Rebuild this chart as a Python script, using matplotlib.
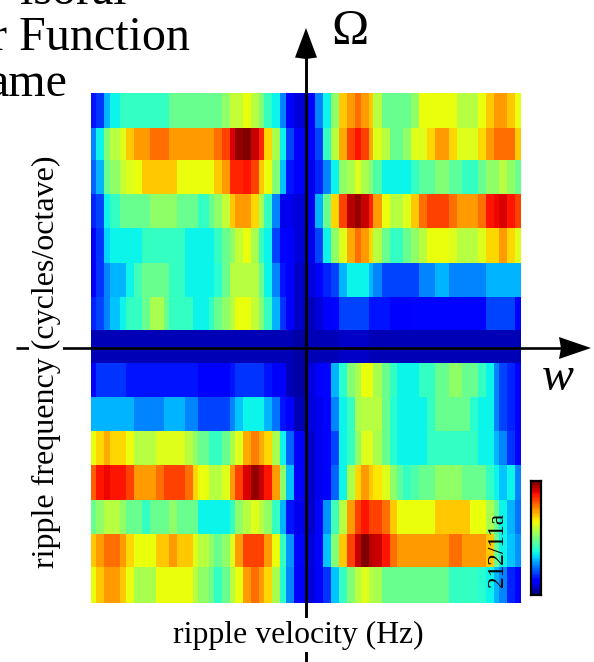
import numpy as np
import matplotlib
matplotlib.use("Agg")
import matplotlib.pyplot as plt
from matplotlib.patches import Polygon

plt.rcParams['font.family'] = ['Liberation Serif', 'DejaVu Serif']

W, H = 594, 662

# column edges of each half of the map, in the map's own velocity units
left_edges = [18,34,58,74,90,106,122,146,172,196,212,236,252,276,300,324,340,372,388,410,
              434,450,474,498,522,538,562,586,602,626,660]
right_edges = [15,22,46,70,94,118,140,164,182,206,220,246,270,292,310,334,358,382,406,446,
               470,486,510,534,558,582,598,622,646,662]
row_edges = [93,127.7,159.7,193.7,228.3,263,297,330.3,362.7,397.3,431.3,465.3,500,534,566.7,603.3]

# normalised response, one list per ripple-frequency row, top to bottom
left_0 = [.15,.18,.31,.37,.37,.42,.42,.42,.42,.42,.42,.42,.47,.47,.47,.47,.47,.47,.47,.53,.58,.58,.63,.57,.5,.42,.36,.25,.13,.08]
left_1 = [.25,.36,.5,.57,.57,.62,.69,.74,.74,.79,.79,.79,.74,.74,.74,.74,.74,.74,.79,.83,.91,.97,1.0,.93,.87,.68,.55,.36,.2,.11]
left_2 = [.22,.31,.47,.52,.52,.58,.62,.63,.69,.69,.69,.69,.69,.63,.63,.63,.63,.63,.69,.74,.87,.87,.875,.83,.69,.63,.5,.32,.15,.11]
left_3 = [.16,.2,.36,.42,.42,.47,.47,.47,.47,.53,.53,.53,.53,.47,.47,.47,.42,.47,.53,.58,.69,.74,.74,.68,.56,.42,.25,.1,.1,.08]
left_4 = [.11,.18,.34,.37,.37,.37,.37,.37,.42,.42,.42,.42,.42,.42,.37,.37,.37,.37,.42,.47,.53,.58,.63,.55,.42,.36,.2,.13,.11,.09]
left_5 = [.11,.18,.25,.31,.31,.31,.37,.43,.47,.47,.47,.47,.42,.42,.37,.37,.37,.37,.4,.47,.57,.57,.57,.57,.47,.36,.25,.15,.12,.07]
left_6 = [.16,.2,.25,.32,.32,.37,.42,.42,.47,.55,.55,.47,.42,.42,.42,.37,.37,.42,.47,.52,.57,.63,.63,.58,.5,.42,.3,.18,.11,.07]
left_7 = [.05,.05,.05,.05,.05,.05,.05,.05,.05,.05,.05,.05,.05,.05,.05,.05,.05,.05,.05,.05,.06,.06,.06,.06,.06,.06,.06,.05,.05,.04]
left_8 = [.14,.18,.18,.18,.18,.18,.15,.15,.15,.15,.15,.15,.15,.15,.15,.15,.12,.12,.12,.12,.15,.18,.18,.18,.18,.15,.11,.11,.06,.04]
left_9 = [.31,.31,.31,.31,.31,.31,.31,.25,.25,.25,.25,.31,.31,.31,.25,.25,.2,.2,.2,.2,.25,.32,.37,.37,.37,.31,.24,.15,.11,.06]
left_10 = [.63,.68,.72,.68,.68,.68,.63,.57,.57,.57,.62,.62,.62,.62,.57,.52,.47,.42,.42,.47,.56,.62,.73,.78,.73,.68,.55,.36,.23,.11]
left_11 = [.8,.875,.9,.89,.89,.875,.83,.74,.74,.74,.79,.83,.83,.83,.79,.68,.63,.57,.57,.62,.74,.83,.92,.98,.93,.875,.74,.52,.32,.11]
left_12 = [.48,.53,.57,.57,.57,.52,.47,.47,.42,.47,.47,.47,.53,.47,.47,.47,.37,.37,.37,.37,.42,.53,.57,.62,.57,.53,.42,.3,.15,.1]
left_13 = [.69,.74,.79,.79,.79,.74,.68,.63,.63,.63,.69,.69,.74,.69,.69,.62,.57,.53,.47,.52,.62,.74,.83,.83,.83,.74,.63,.42,.27,.13]
left_14 = [.63,.69,.74,.74,.74,.69,.63,.55,.55,.55,.63,.63,.63,.63,.63,.57,.52,.47,.42,.47,.57,.63,.74,.79,.74,.68,.55,.4,.26,.12]

right_0 = [.08,.11,.25,.37,.52,.69,.74,.79,.74,.69,.57,.47,.47,.47,.47,.53,.63,.63,.63,.63,.57,.57,.57,.63,.69,.74,.74,.69,.63]
right_1 = [.08,.12,.2,.42,.57,.73,.83,.875,.83,.72,.62,.57,.47,.47,.53,.62,.62,.68,.74,.68,.62,.62,.62,.68,.74,.79,.79,.79,.69]
right_2 = [.07,.1,.16,.25,.36,.52,.56,.62,.55,.5,.44,.37,.37,.37,.37,.42,.46,.46,.51,.46,.46,.41,.41,.47,.52,.52,.57,.52,.47]
right_3 = [.08,.1,.3,.48,.68,.83,.94,.98,.93,.87,.74,.63,.57,.57,.62,.69,.79,.83,.83,.79,.74,.74,.74,.79,.875,.9,.92,.875,.83]
right_4 = [.07,.1,.2,.37,.52,.62,.73,.79,.74,.68,.57,.47,.42,.42,.47,.52,.57,.63,.63,.62,.57,.57,.57,.62,.68,.68,.74,.68,.62]
right_5 = [.05,.08,.13,.16,.2,.31,.37,.37,.37,.31,.25,.2,.2,.2,.2,.2,.25,.25,.31,.26,.26,.26,.26,.26,.31,.31,.31,.31,.31]
right_6 = [.04,.06,.08,.11,.14,.19,.19,.19,.19,.15,.15,.15,.11,.11,.11,.14,.14,.14,.14,.14,.14,.14,.14,.14,.19,.19,.19,.19,.14]
right_7 = [.04,.05,.06,.06,.06,.07,.07,.07,.07,.06,.05,.05,.05,.05,.05,.05,.05,.05,.05,.05,.05,.05,.05,.05,.05,.05,.05,.05,.05]
right_8 = [.06,.08,.11,.14,.31,.4,.5,.56,.63,.63,.56,.47,.42,.37,.37,.37,.42,.42,.47,.53,.53,.47,.47,.42,.36,.25,.2,.16,.14]
right_9 = [.06,.08,.1,.14,.25,.36,.42,.56,.57,.57,.57,.47,.4,.37,.37,.37,.37,.42,.47,.47,.47,.47,.4,.37,.36,.25,.2,.16,.14]
right_10 = [.06,.07,.1,.11,.2,.36,.42,.53,.62,.62,.56,.47,.4,.37,.37,.37,.37,.42,.42,.42,.42,.42,.42,.37,.36,.31,.25,.18,.14]
right_11 = [.06,.07,.1,.11,.23,.37,.55,.68,.74,.69,.66,.62,.53,.46,.42,.44,.47,.47,.53,.53,.53,.47,.47,.47,.42,.37,.32,.36,.25]
right_12 = [.06,.07,.14,.28,.43,.57,.74,.83,.875,.83,.83,.79,.69,.63,.63,.63,.63,.63,.69,.69,.69,.69,.63,.63,.56,.47,.36,.3,.24]
right_13 = [.06,.09,.14,.32,.5,.69,.83,.93,1.0,.94,.93,.875,.79,.74,.74,.74,.74,.74,.74,.79,.79,.74,.74,.74,.69,.47,.36,.32,.27]
right_14 = [.06,.08,.13,.18,.32,.42,.5,.57,.62,.57,.56,.47,.47,.47,.47,.47,.47,.47,.47,.42,.42,.42,.42,.4,.37,.31,.25,.16,.13]

left_rows = [left_0,left_1,left_2,left_3,left_4,left_5,left_6,left_7,left_8,left_9,left_10,left_11,left_12,left_13,left_14]
right_rows = [right_0,right_1,right_2,right_3,right_4,right_5,right_6,right_7,right_8,right_9,right_10,right_11,right_12,right_13,right_14]

xlabel = "ripple velocity (Hz)"
ylabel = "ripple frequency (cycles/octave)"
title_lines = ["isoral", "r Function", "ame"]

fig = plt.figure(figsize=(W / 100, H / 100), dpi=100, facecolor='white')
cmap = plt.get_cmap('jet', 64)


def px_axes(x0, x1, y0, y1, **kw):
    return fig.add_axes([x0 / W, 1 - y1 / H, (x1 - x0) / W, (y1 - y0) / H], **kw)


top, bottom = row_edges[0], row_edges[-1]
axl = px_axes(91, 305, top, bottom)
axr = px_axes(305, 520.7, top, bottom)
for a, edges, rows in ((axl, left_edges, left_rows), (axr, right_edges, right_rows)):
    a.pcolormesh(edges, row_edges, np.array(rows), cmap=cmap, vmin=0, vmax=1,
                 shading='flat', antialiased=False, linewidth=0)
    a.set_xlim(edges[0], edges[-1])
    a.set_ylim(bottom, top)
    a.axis('off')

# colour bar
cax = px_axes(531, 541, 481, 595)
cax.imshow(np.linspace(1, 0, 256)[:, None], cmap=cmap, aspect='auto', vmin=0, vmax=1,
           interpolation='nearest')
cax.set_xticks([])
cax.set_yticks([])
for s in cax.spines.values():
    s.set_linewidth(1.6)
    s.set_color('black')

# overlay in figure pixels: axes cross, arrows and text
ov = fig.add_axes([0, 0, 1, 1], facecolor='none')
ov.set_xlim(0, W)
ov.set_ylim(H, 0)
ov.axis('off')

ov.plot([306, 306], [50, H], color='black', lw=2.1, solid_capstyle='butt', zorder=3)
ov.plot([16, 565], [348, 348], color='black', lw=1.9, solid_capstyle='butt', zorder=3)
ov.add_patch(Polygon([(306, 28), (317, 57.5), (306, 59), (295, 57.5)], closed=True,
                     fc='black', ec='none', zorder=4))
ov.add_patch(Polygon([(591, 348), (559, 359), (561, 348), (559, 337)], closed=True,
                     fc='black', ec='none', zorder=4))

ov.text(298, 635, xlabel, fontsize=22.9, ha='center', va='center', zorder=5,
        bbox=dict(fc='white', ec='none', pad=1.5))
ov.text(46, 361.5, ylabel, fontsize=23, rotation=90, ha='center', va='center', zorder=5,
        bbox=dict(fc='white', ec='none', pad=1.5))

ov.text(127, 4, title_lines[0], fontsize=34.6, ha='right', va='baseline', zorder=5)
ov.text(190, 50, title_lines[1], fontsize=34.6, ha='right', va='baseline', zorder=5)
ov.text(67, 96, title_lines[2], fontsize=34.6, ha='right', va='baseline', zorder=5)

ov.text(350, 44, "\u03a9", fontsize=36, ha='center', va='baseline', zorder=5)
ov.text(558, 390, "w", fontsize=34.5, style='italic', ha='center', va='baseline', zorder=5)
ov.text(497, 550, "212/11a", fontsize=16.8, rotation=90, ha='center', va='center', zorder=5)

fig.savefig("out.png", dpi=100, facecolor='white')
